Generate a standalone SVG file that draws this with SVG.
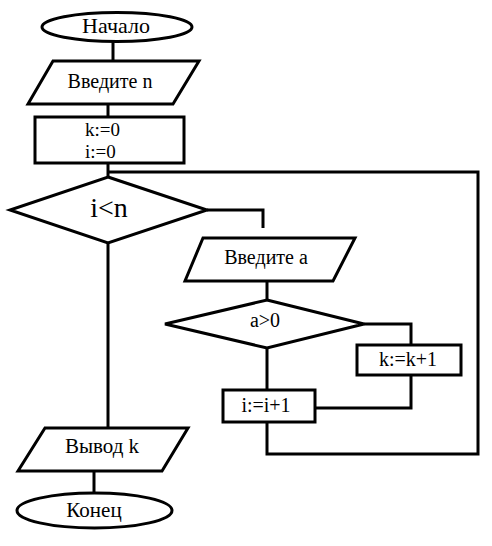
<svg xmlns="http://www.w3.org/2000/svg" width="492" height="546" viewBox="0 0 492 546">
<style>
.s{fill:#fff;stroke:#000;stroke-width:3;stroke-linejoin:miter}
.c{fill:none;stroke:#000;stroke-width:3}
text{font-family:"Liberation Serif","Times New Roman",serif;fill:#000}
.m{text-anchor:middle}
</style>
<rect width="492" height="546" fill="#fff"/>
<g id="connectors">
<polyline class="c" points="113,42 113,61"/>
<polyline class="c" points="108,104 108,117"/>
<polyline class="c" points="108,163 108,177"/>
<polyline class="c" points="207,210 263,210 263,228"/>
<polyline class="c" points="267,281 267,300"/>
<polyline class="c" points="364,324 411,324 411,345"/>
<polyline class="c" points="411,375 411,408 315,408"/>
<polyline class="c" points="267,348 267,390"/>
<polyline class="c" points="267,422 267,454 478,454 478,172 108,172"/>
<polyline class="c" points="108,243 108,428"/>
<polyline class="c" points="94,471 94,493"/>
</g>
<g id="start">
<ellipse class="s" cx="117" cy="27" rx="75" ry="14.5"/>
<text class="m" x="116" y="33" font-size="22">Начало</text>
</g>
<g id="input-n">
<polygon class="s" points="53,61 199,61 173,104 28,104"/>
<text class="m" x="110" y="88" font-size="20">Введите n</text>
</g>
<g id="init">
<rect class="s" x="35" y="117" width="149" height="46"/>
<text x="85" y="136" font-size="19">k:=0</text>
<text x="85" y="158" font-size="19">i:=0</text>
</g>
<g id="cond-i">
<polygon class="s" points="108,177 207,210 108,243 10,210"/>
<text class="m" x="109" y="217" font-size="28">i&lt;n</text>
</g>
<g id="input-a">
<polygon class="s" points="203,238 355,238 333,281 185,281"/>
<text class="m" x="266" y="264" font-size="20">Введите a</text>
</g>
<g id="cond-a">
<polygon class="s" points="267,300 364,324 267,348 165,324"/>
<text class="m" x="265" y="327" font-size="20">a&gt;0</text>
</g>
<g id="inc-k">
<rect class="s" x="357" y="345" width="104" height="30"/>
<text class="m" x="408" y="366" font-size="20">k:=k+1</text>
</g>
<g id="inc-i">
<rect class="s" x="223" y="390" width="92" height="32"/>
<text class="m" x="266" y="412" font-size="20">i:=i+1</text>
</g>
<g id="output-k">
<polygon class="s" points="45,428 188,428 162,471 18,471"/>
<text class="m" x="102" y="453" font-size="21">Вывод k</text>
</g>
<g id="end">
<ellipse class="s" cx="94.5" cy="510.5" rx="77.5" ry="17.5"/>
<text class="m" x="94" y="517" font-size="21">Конец</text>
</g>
</svg>
